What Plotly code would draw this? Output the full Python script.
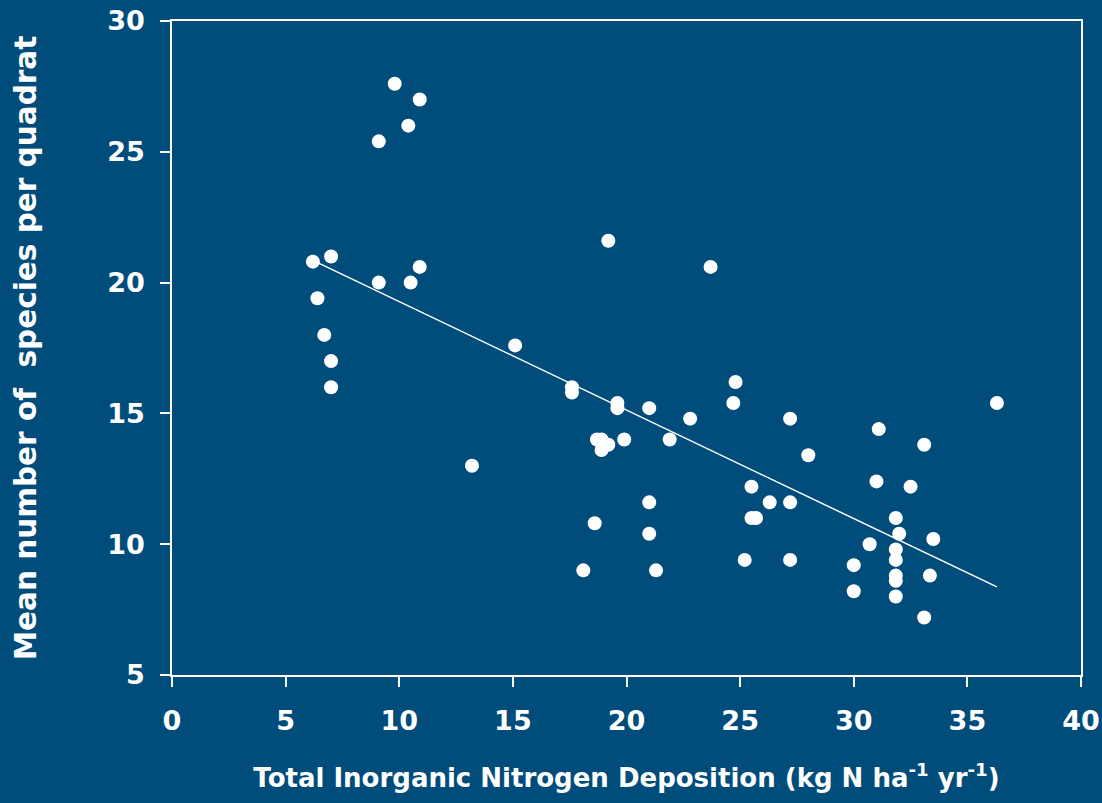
import numpy as np
import plotly.graph_objects as go

# Total inorganic N deposition (kg N ha-1 yr-1) and mean species count per quadrat
deposition = [
    6.2, 7.0, 6.4, 6.7, 7.0, 7.0,
    9.8, 9.1, 10.4, 10.9, 9.1, 10.5, 10.9,
    13.2, 15.1, 17.6, 17.6,
    18.7, 18.9, 18.9, 19.2, 19.6, 19.6, 19.9,
    21.0, 21.9, 22.8, 21.0, 21.0, 18.6, 18.1, 21.3,
    19.2, 23.7,
    24.8, 24.7, 27.2, 28.0, 25.5, 26.3, 27.2, 25.5, 25.7, 25.2, 27.2,
    31.1, 33.1, 31.0, 32.5, 31.85, 32.0, 33.5, 30.7, 31.85, 31.85, 30.0,
    31.85, 31.85, 33.35, 30.0, 31.85, 33.1,
    36.3,
]
species = [
    20.8, 21.0, 19.4, 18.0, 17.0, 16.0,
    27.6, 25.4, 26.0, 27.0, 20.0, 20.0, 20.6,
    13.0, 17.6, 16.0, 15.8,
    14.0, 14.0, 13.6, 13.8, 15.4, 15.2, 14.0,
    15.2, 14.0, 14.8, 11.6, 10.4, 10.8, 9.0, 9.0,
    21.6, 20.6,
    16.2, 15.4, 14.8, 13.4, 12.2, 11.6, 11.6, 11.0, 11.0, 9.4, 9.4,
    14.4, 13.8, 12.4, 12.2, 11.0, 10.4, 10.2, 10.0, 9.8, 9.4, 9.2,
    8.8, 8.6, 8.8, 8.2, 8.0, 7.2,
    15.4,
]

x_ticks = [0, 5, 10, 15, 20, 25, 30, 35, 40]
y_ticks = [5, 10, 15, 20, 25, 30]

BG = "rgb(0,76,122)"
FONT = "DejaVu Sans, Arial, sans-serif"

# least-squares trend across the observed deposition range
slope, intercept = np.polyfit(deposition, species, 1)
x_fit = np.array([min(deposition), max(deposition)])
y_fit = slope * x_fit + intercept

fig = go.Figure()
fig.add_trace(go.Scatter(
    x=deposition, y=species, mode="markers",
    marker=dict(size=14, color="white", line=dict(width=0)),
    showlegend=False, hoverinfo="x+y",
))
fig.add_trace(go.Scatter(
    x=x_fit, y=y_fit, mode="lines",
    line=dict(color="white", width=1.5),
    showlegend=False, hoverinfo="skip",
))

axis_common = dict(
    showgrid=False, zeroline=False, automargin=False,
    showline=True, linecolor="white", linewidth=1.5, mirror=True,
    ticks="outside", ticklen=10, tickwidth=1.5, tickcolor="white",
    tickfont=dict(family=FONT, size=27, color="white", weight="bold"),
)

fig.update_xaxes(
    range=[0, 40], tickvals=x_ticks, ticklabelstandoff=11,
    title=dict(
        text="Total Inorganic Nitrogen Deposition (kg N ha<sup>-1</sup> yr<sup>-1</sup>)",
        font=dict(family=FONT, size=26, color="white", weight="bold"),
        standoff=34,
    ),
    **axis_common,
)
fig.update_yaxes(
    range=[5, 30], tickvals=y_ticks, ticklabelstandoff=10,
    title=dict(
        text="Mean number of  species per quadrat",
        font=dict(family=FONT, size=29.5, color="white", weight="bold"),
        standoff=62,
    ),
    **axis_common,
)

fig.update_layout(
    width=1102, height=803,
    paper_bgcolor=BG, plot_bgcolor=BG,
    margin=dict(l=172, r=21, t=21, b=128),
)

fig.write_html("out.html")
